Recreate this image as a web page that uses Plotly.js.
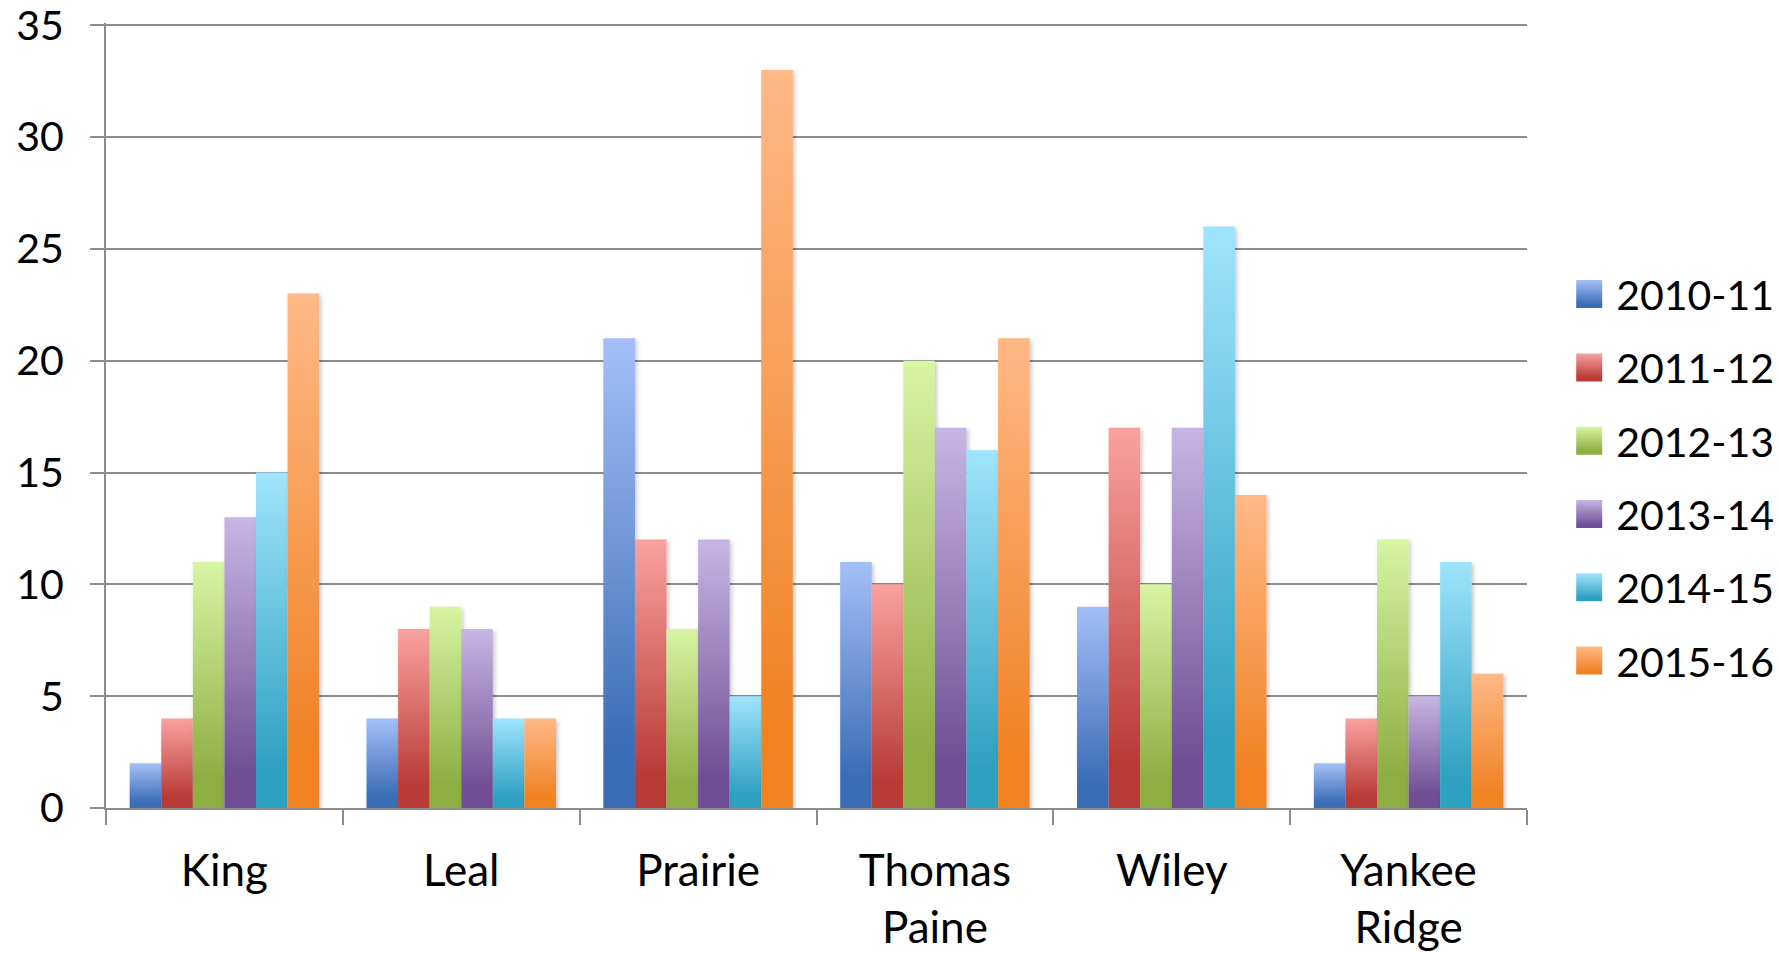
<!DOCTYPE html>
<html>
<head>
<meta charset="utf-8">
<script src="https://cdn.plot.ly/plotly-3.0.1.min.js"></script>
<style>
  html, body { margin: 0; padding: 0; background: #ffffff; }
  #chart { width: 1781px; height: 953px; }
</style>
</head>
<body>
<svg width="0" height="0" style="position:absolute">
  <defs id="customDefs"></defs>
</svg>
<div id="chart"></div>
<script>
// ---- data ----
const schools = ["King", "Leal", "Prairie", "Thomas<br>Paine", "Wiley", "Yankee<br>Ridge"];
const seasons = ["2010-11", "2011-12", "2012-13", "2013-14", "2014-15", "2015-16"];
const s2010_11 = [2, 4, 21, 11, 9, 2];
const s2011_12 = [4, 8, 12, 10, 17, 4];
const s2012_13 = [11, 9, 8, 20, 10, 12];
const s2013_14 = [13, 8, 12, 17, 17, 5];
const s2014_15 = [15, 4, 5, 16, 26, 11];
const s2015_16 = [23, 4, 33, 21, 14, 6];
const seriesValues = [s2010_11, s2011_12, s2012_13, s2013_14, s2014_15, s2015_16];

// ---- styles ----
const topColors = ["#a4bff7", "#f9a2a0", "#d7f5a3", "#c7b6e3", "#9fe4fd", "#ffb886"];
const bottomColors = ["#3a6cb6", "#b93a36", "#8cae42", "#704e95", "#2fa0c1", "#f08224"];
const baseColors = ["#4f81bd", "#c0504d", "#9bbb59", "#8064a2", "#4bacc6", "#f79646"];

const FONT = "Lato, 'Open Sans', sans-serif";

// gradient definitions
const defs = document.getElementById('customDefs');
const NS = 'http://www.w3.org/2000/svg';
topColors.forEach((c, i) => {
  const lg = document.createElementNS(NS, 'linearGradient');
  lg.setAttribute('id', 'grad' + i);
  lg.setAttribute('x1', '0'); lg.setAttribute('y1', '0');
  lg.setAttribute('x2', '0'); lg.setAttribute('y2', '1');
  [[0, topColors[i]], [0.88, bottomColors[i]], [1, bottomColors[i]]].forEach(([o, col]) => {
    const st = document.createElementNS(NS, 'stop');
    st.setAttribute('offset', o);
    st.setAttribute('stop-color', col);
    lg.appendChild(st);
  });
  defs.appendChild(lg);
});
const filt = document.createElementNS(NS, 'filter');
filt.setAttribute('id', 'barShadow');
filt.setAttribute('x', '-20%'); filt.setAttribute('y', '-20%');
filt.setAttribute('width', '140%'); filt.setAttribute('height', '140%');
const ds = document.createElementNS(NS, 'feDropShadow');
ds.setAttribute('dx', '2'); ds.setAttribute('dy', '2');
ds.setAttribute('stdDeviation', '2');
ds.setAttribute('flood-color', '#000'); ds.setAttribute('flood-opacity', '0.22');
filt.appendChild(ds);
defs.appendChild(filt);

const traces = seasons.map((name, i) => ({
  type: 'bar',
  name: name,
  x: schools,
  y: seriesValues[i],
  legendgroup: 'g' + i,
  marker: { color: baseColors[i], line: { width: 0 } },
  hoverinfo: 'x+y+name'
}));

const layout = {
  width: 1781,
  height: 953,
  paper_bgcolor: '#ffffff',
  plot_bgcolor: '#ffffff',
  margin: { l: 106, r: 254, t: 23, b: 145, pad: 0 },
  barmode: 'group',
  bargap: 0.2,
  bargroupgap: 0,
  font: { family: FONT, size: 41, color: '#000000' },
  showlegend: true,
  legend: {
    xref: 'container', yref: 'container',
    x: 0.885, xanchor: 'left',
    y: 0.499, yanchor: 'middle',
    font: { family: FONT, size: 41, color: '#000000' },
    tracegroupgap: 17,
    itemwidth: 30,
    bgcolor: 'rgba(0,0,0,0)',
    borderwidth: 0
  },
  xaxis: {
    type: 'category',
    tickson: 'boundaries',
    ticks: 'outside',
    ticklen: 15,
    tickwidth: 2,
    tickcolor: '#8c8c8c',
    showline: true,
    linecolor: '#8c8c8c',
    linewidth: 2,
    showgrid: false,
    zeroline: false,
    ticklabelstandoff: 23,
    tickfont: { family: FONT, size: 44, color: '#000000' },
    fixedrange: true
  },
  yaxis: {
    range: [0, 35.1],
    tick0: 0,
    dtick: 5,
    ticks: 'outside',
    ticklen: 14,
    tickwidth: 2,
    tickcolor: '#8c8c8c',
    showline: true,
    linecolor: '#8c8c8c',
    linewidth: 2,
    showgrid: true,
    gridcolor: '#8c8c8c',
    gridwidth: 2,
    zeroline: false,
    ticklabelstandoff: 18,
    ticklabeloverflow: 'allow',
    tickfont: { family: FONT, size: 41, color: '#000000' },
    fixedrange: true
  }
};

function decorate(gd) {
  const traceGroups = gd.querySelectorAll('.barlayer .trace');
  traceGroups.forEach((tg, i) => {
    tg.querySelectorAll('.point path, path.point').forEach(p => {
      p.style.fill = 'url(#grad' + i + ')';
      p.style.filter = 'url(#barShadow)';
    });
  });
  const items = gd.querySelectorAll('.legend .traces');
  items.forEach((it, i) => {
    const p = it.querySelector('.legendpoints path');
    if (p) {
      p.setAttribute('d', 'M6,14H-22V-14H6Z');
      p.style.fill = 'url(#grad' + i + ')';
      p.style.stroke = 'none';
    }
  });
}

const gd = document.getElementById('chart');
Plotly.newPlot(gd, traces, layout, { displayModeBar: false, staticPlot: true }).then(() => {
  decorate(gd);
  gd.on('plotly_afterplot', () => decorate(gd));
});
</script>
</body>
</html>
